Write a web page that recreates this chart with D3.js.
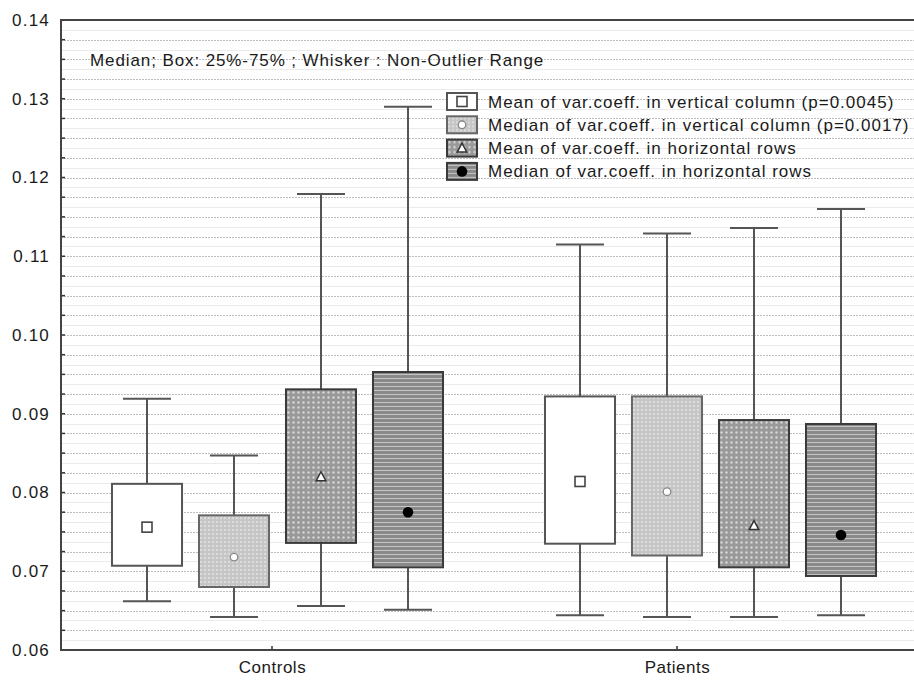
<!DOCTYPE html>
<html>
<head>
<meta charset="utf-8">
<script src="https://cdn.jsdelivr.net/npm/d3@7"></script>
<style>
  body { margin: 0; background: #fff; }
  text { font-family: "Liberation Sans", Arial, sans-serif; fill: #1a1a1a; }
</style>
</head>
<body>
<svg id="chart" width="914" height="681"></svg>
<script>
// data
var categories = ["Controls", "Patients"];
var series = [
  "Mean of var.coeff. in vertical column (p=0.0045)",
  "Median of var.coeff. in vertical column (p=0.0017)",
  "Mean of var.coeff. in horizontal rows",
  "Median of var.coeff. in horizontal rows"
];
var whiskerLow  = [[0.0662, 0.0642, 0.0656, 0.0651], [0.0644, 0.0642, 0.0642, 0.0644]];
var boxLow      = [[0.0707, 0.0680, 0.0736, 0.0705], [0.0735, 0.0720, 0.0705, 0.0694]];
var boxHigh     = [[0.0811, 0.0771, 0.0931, 0.0953], [0.0922, 0.0922, 0.0892, 0.0887]];
var whiskerHigh = [[0.0919, 0.0847, 0.1179, 0.1290], [0.1115, 0.1129, 0.1136, 0.1160]];
var centerVal   = [[0.0756, 0.0718, 0.0820, 0.0775], [0.0814, 0.0801, 0.0758, 0.0746]];
var yTicks = [0.06, 0.07, 0.08, 0.09, 0.10, 0.11, 0.12, 0.13, 0.14];
var title = "Median; Box: 25%-75% ; Whisker : Non-Outlier Range";

var w = 914, h = 681;
var padL = 61, padT = 20, padB = 650, padR = 927;

var svg = d3.select("#chart");
var defs = svg.append("defs");

// fill textures
var p1 = defs.append("pattern").attr("id", "dots1").attr("patternUnits", "userSpaceOnUse")
  .attr("width", 4).attr("height", 4);
p1.append("rect").attr("width", 4).attr("height", 4).attr("fill", "#c6c6c6");
p1.append("circle").attr("cx", 2).attr("cy", 2).attr("r", 1).attr("fill", "#e4e4e4");

var p2 = defs.append("pattern").attr("id", "dots2").attr("patternUnits", "userSpaceOnUse")
  .attr("width", 5).attr("height", 5);
p2.append("rect").attr("width", 5).attr("height", 5).attr("fill", "#999");
p2.append("circle").attr("cx", 2.5).attr("cy", 2.5).attr("r", 1.2).attr("fill", "#d6d6d6");

var p3 = defs.append("pattern").attr("id", "stripes").attr("patternUnits", "userSpaceOnUse")
  .attr("width", 6).attr("height", 4);
p3.append("rect").attr("width", 6).attr("height", 4).attr("fill", "#8a8a8a");
p3.append("rect").attr("y", 2).attr("width", 6).attr("height", 1).attr("fill", "#c4c4c4");

var fills = ["#ffffff", "url(#dots1)", "url(#dots2)", "url(#stripes)"];
var strokes = ["#555", "#666", "#3a3a3a", "#3a3a3a"];

var y = d3.scaleLinear().domain([0.06, 0.14]).range([padB, padT]);
var x = d3.scaleBand().domain(categories).range([padL, padR]);
var xs = d3.scaleBand().domain(d3.range(series.length)).range([0, x.bandwidth()])
  .paddingInner(0.195).paddingOuter(0.586);
var labelX = d3.scalePoint().domain(categories).range([272, 677]);

// grid
var grid = d3.range(0.06, 0.14001, 0.0025);
svg.append("g").selectAll("line").data(grid).enter().append("line")
  .attr("x1", padL).attr("x2", w)
  .attr("y1", function(d) { return Math.round(y(d)) + 0.5; })
  .attr("y2", function(d) { return Math.round(y(d)) + 0.5; })
  .attr("stroke", "#bdbdbd").attr("stroke-width", 1).attr("stroke-dasharray", "2,1");
svg.append("g").selectAll("line").data(grid.slice(0, -1)).enter().append("line")
  .attr("x1", padL).attr("x2", w)
  .attr("y1", function(d) { return Math.round(y(d + 0.00125)) + 0.5; })
  .attr("y2", function(d) { return Math.round(y(d + 0.00125)) + 0.5; })
  .attr("stroke", "#ebebeb").attr("stroke-width", 1);

// title inside plot
svg.append("text").attr("x", 90).attr("y", 66).attr("font-size", "17px")
  .attr("letter-spacing", "0.9px").text(title);

// boxes
var rows = [];
categories.forEach(function(c, ci) {
  series.forEach(function(s, si) {
    rows.push({ c: c, s: si, lo: whiskerLow[ci][si], q1: boxLow[ci][si], q3: boxHigh[ci][si],
                hi: whiskerHigh[ci][si], m: centerVal[ci][si] });
  });
});

var bw = xs.bandwidth();
var g = svg.append("g").selectAll("g").data(rows).enter().append("g")
  .attr("transform", function(d) { return "translate(" + (x(d.c) + xs(d.s)) + ",0)"; });

g.append("line").attr("x1", bw / 2).attr("x2", bw / 2)
  .attr("y1", function(d) { return y(d.hi); }).attr("y2", function(d) { return y(d.lo); })
  .attr("stroke", "#555").attr("stroke-width", 2);
g.append("line").attr("x1", bw / 2 - 24).attr("x2", bw / 2 + 24)
  .attr("y1", function(d) { return y(d.hi); }).attr("y2", function(d) { return y(d.hi); })
  .attr("stroke", "#555").attr("stroke-width", 2);
g.append("line").attr("x1", bw / 2 - 24).attr("x2", bw / 2 + 24)
  .attr("y1", function(d) { return y(d.lo); }).attr("y2", function(d) { return y(d.lo); })
  .attr("stroke", "#555").attr("stroke-width", 2);
g.append("rect").attr("x", 0).attr("width", bw)
  .attr("y", function(d) { return y(d.q3); })
  .attr("height", function(d) { return y(d.q1) - y(d.q3); })
  .attr("fill", function(d) { return fills[d.s]; })
  .attr("stroke", function(d) { return strokes[d.s]; }).attr("stroke-width", 2);

function marker(sel, si) {
  if (si === 0) {
    sel.append("rect").attr("x", -5).attr("y", -5).attr("width", 10).attr("height", 10)
      .attr("fill", "#fff").attr("stroke", "#444").attr("stroke-width", 1.6);
  } else if (si === 1) {
    sel.append("circle").attr("r", 3.8).attr("fill", "#fff").attr("stroke", "#888").attr("stroke-width", 1.3);
  } else if (si === 2) {
    sel.append("path").attr("d", "M0,-5L4.8,4L-4.8,4Z")
      .attr("fill", "#fff").attr("stroke", "#333").attr("stroke-width", 1.5);
  } else {
    sel.append("circle").attr("r", 5.3).attr("fill", "#000");
  }
}
g.each(function(d) {
  var m = d3.select(this).append("g").attr("transform", "translate(" + bw / 2 + "," + y(d.m) + ")");
  marker(m, d.s);
});

// axes
var yAxis = d3.axisLeft(y).tickValues(yTicks).tickSize(0).tickPadding(11)
  .tickFormat(d3.format(".2f"));
var ya = svg.append("g").attr("transform", "translate(" + padL + ",0)").call(yAxis);
ya.select(".domain").remove();
ya.selectAll("text").attr("font-size", "17px").attr("font-family", "Liberation Sans, Arial, sans-serif")
  .attr("fill", "#1a1a1a").attr("letter-spacing", "1.2px");

svg.append("g").selectAll("line").data(grid).enter().append("line")
  .attr("x1", padL).attr("x2", padL + 4)
  .attr("y1", function(d) { return y(d); }).attr("y2", function(d) { return y(d); })
  .attr("stroke", "#333").attr("stroke-width", 1.5);

var xAxis = d3.axisBottom(labelX).tickSize(0).tickPadding(11);
var xa = svg.append("g").attr("transform", "translate(0," + padB + ")").call(xAxis);
xa.select(".domain").remove();
xa.selectAll("text").attr("font-size", "17px").attr("font-family", "Liberation Sans, Arial, sans-serif")
  .attr("fill", "#1a1a1a").attr("letter-spacing", "0.5px");
svg.append("g").selectAll("line").data(categories).enter().append("line")
  .attr("x1", function(d) { return labelX(d); }).attr("x2", function(d) { return labelX(d); })
  .attr("y1", padB).attr("y2", padB - 4).attr("stroke", "#333").attr("stroke-width", 1.5);

svg.append("path").attr("d", "M" + w + "," + padT + "H" + padL + "V" + padB + "H" + w)
  .attr("fill", "none").attr("stroke", "#444").attr("stroke-width", 2);

// legend
var lg = svg.append("g").attr("transform", "translate(447,93)");
var li = lg.selectAll("g").data(series).enter().append("g")
  .attr("transform", function(d, i) { return "translate(0," + (i * 23.3) + ")"; });
li.append("rect").attr("width", 30).attr("height", 17)
  .attr("fill", function(d, i) { return fills[i]; })
  .attr("stroke", function(d, i) { return strokes[i]; }).attr("stroke-width", 2);
li.each(function(d, i) {
  var m = d3.select(this).append("g").attr("transform", "translate(15,8.5)");
  marker(m, i);
});
li.append("text").attr("x", 41).attr("y", 14.5).attr("font-size", "17px")
  .attr("letter-spacing", "1px").text(function(d) { return d; });
</script>
</body>
</html>
